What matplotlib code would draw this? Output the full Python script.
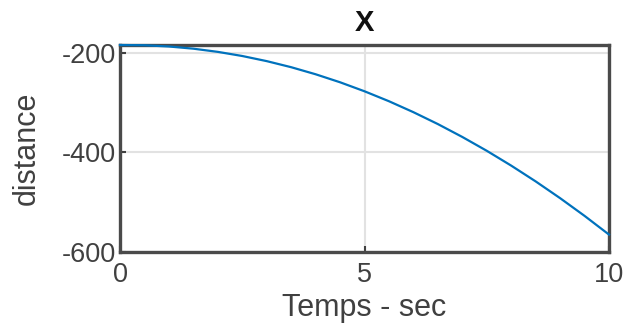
import matplotlib
matplotlib.use("Agg")
import matplotlib.pyplot as plt

time_s = [0, 0.5, 1, 1.5, 2, 2.5, 3, 3.5, 4, 4.5, 5, 5.5, 6, 6.5, 7, 7.5, 8, 8.5, 9, 9.5, 10]
distance = [-184, -184.5, -187.0, -191.4, -197.8, -206.1, -216.4, -228.6, -242.8, -258.9,
            -277, -297.0, -319.0, -342.9, -368.8, -396.6, -426.4, -458.1, -491.8, -527.4, -565]
xticks = [0, 5, 10]
yticks = [-600, -400, -200]

plt.rcParams['font.family'] = ['Liberation Sans', 'DejaVu Sans']

fig = plt.figure(figsize=(6.29, 3.26), dpi=100)
ax = fig.add_axes([120/629, 1-252/326, (609-120)/629, (252-45)/326])

ax.plot(time_s, distance, color='#0072BD', lw=1.6, clip_on=False, zorder=3)
ax.set_xlim(0, 10)
ax.set_ylim(-600, -184)
ax.set_xticks(xticks)
ax.set_yticks(yticks)
ax.set_xticklabels([str(v) for v in xticks])
ax.set_yticklabels([str(v) for v in yticks])
ax.grid(True, color='#e2e2e2', lw=1.5)
ax.set_axisbelow(True)
ax.tick_params(direction='in', length=4, width=1.5, colors='#404040',
               labelsize=19.5, labelcolor='#404040')
ax.tick_params(axis='x', pad=7)
ax.tick_params(axis='y', pad=3)
for s in ax.spines.values():
    s.set_color('#4a4a4a')
    s.set_linewidth(2.4)

ax.set_xlabel('Temps - sec', fontsize=22, color='#404040', labelpad=4)
ax.set_ylabel('distance', fontsize=22, color='#404040', labelpad=14)
ax.set_title('X', fontsize=21, fontweight='bold', color='#111111', pad=10)

fig.savefig('out.png', dpi=100)
